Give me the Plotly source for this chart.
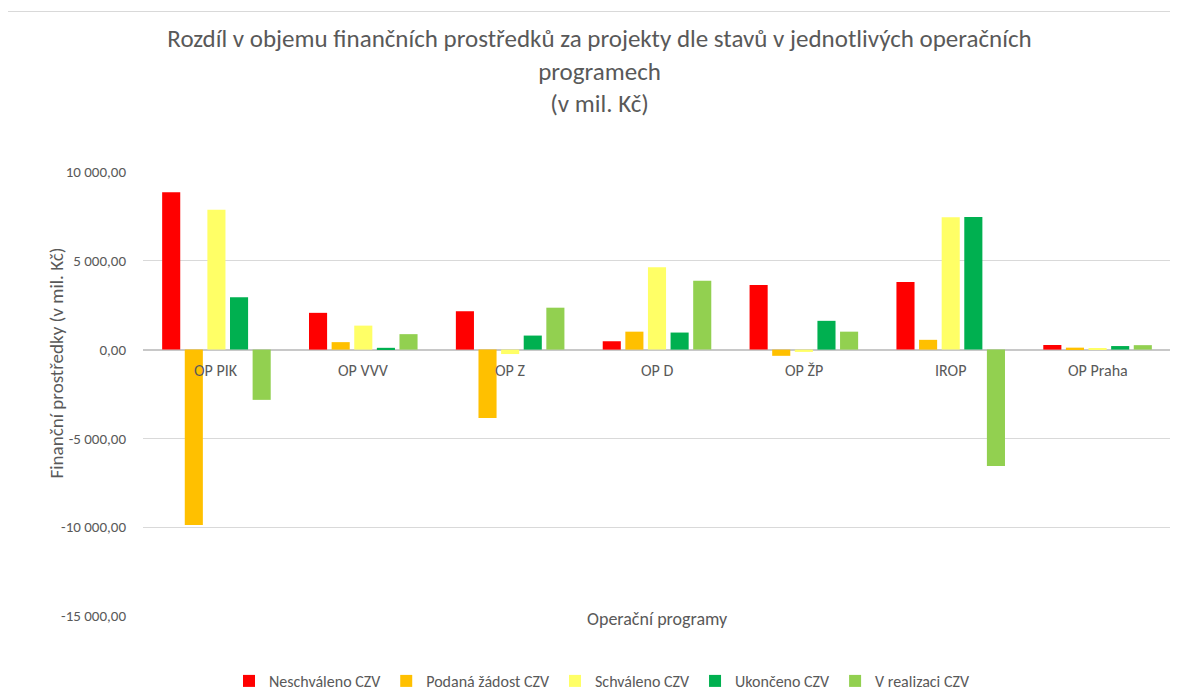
import plotly.graph_objects as go

categories = ["OP PIK", "OP VVV", "OP Z", "OP D", "OP ŽP", "IROP", "OP Praha"]
series_names = ["Neschváleno CZV", "Podaná žádost CZV", "Schváleno CZV", "Ukončeno CZV", "V realizaci CZV"]
neschvaleno = [8860, 2070, 2160, 470, 3640, 3810, 260]
podana = [-9870, 420, -3850, 1010, -350, 550, 110]
schvaleno = [7870, 1350, -250, 4640, -130, 7450, 80]
ukonceno = [2950, 100, 790, 960, 1620, 7460, 200]
v_realizaci = [-2830, 870, 2360, 3870, 1010, -6550, 250]
colors = ["#FF0000", "#FFC000", "#FFFF66", "#00B050", "#92D050"]
tick_values = [10000, 5000, 0, -5000, -10000, -15000]

def fmt(v):
    s = f"{abs(v):,.2f}".replace(",", " ").replace(".", ",")
    return ("-" if v < 0 else "") + s

FONT = "Carlito, Lato, sans-serif"
GREY = "#595959"

fig = go.Figure()
for name, vals, col in zip(series_names, [neschvaleno, podana, schvaleno, ukonceno, v_realizaci], colors):
    fig.add_trace(go.Bar(x=categories, y=vals, name=name, marker=dict(color=col, line=dict(width=0))))

W, H = 1178, 696
OFF = 8  # page body margin
# plot area in page pixels
L, R, T, B = 143, 1171, 172, 616
pw, ph = R - L, B - T

def px(x):
    return (x - L) / pw

def py(y):
    return (B - y) / ph

annotations = []
for c in categories:
    annotations.append(dict(x=c, y=0, xref="x", yref="y", text=c, showarrow=False,
                            yanchor="middle", yshift=-21, font=dict(size=16, color=GREY, family=FONT)))
annotations.append(dict(x=px(42), y=py(363), xref="paper", yref="paper", text="Finanční prostředky (v mil. Kč)",
                        showarrow=False, textangle=-90, font=dict(size=19, color=GREY, family=FONT)))
annotations.append(dict(x=px(657), y=py(632), xref="paper", yref="paper", text="Operační programy",
                        showarrow=False, font=dict(size=18, color=GREY, family=FONT)))

fig.update_layout(
    width=W, height=H,
    margin=dict(l=L - OFF, r=W - (R - OFF), t=T - OFF, b=H - (B - OFF), autoexpand=False),
    paper_bgcolor="white", plot_bgcolor="white",
    font=dict(family=FONT, color=GREY),
    title=dict(text="Rozdíl v objemu finančních prostředků za projekty dle stavů v jednotlivých operačních<br>programech<br>(v mil. Kč)",
               x=(599.5 - OFF) / W, xanchor="center", y=1 - 39 / H, yanchor="top",
               font=dict(size=25, color=GREY, family=FONT)),
    barmode="group", bargap=0.23, bargroupgap=0.2,
    xaxis=dict(showticklabels=False, showgrid=False, showline=False, ticks=""),
    yaxis=dict(range=[-15000, 10000], tickvals=tick_values, ticktext=[fmt(v) for v in tick_values],
               showgrid=True, gridcolor="#D9D9D9", gridwidth=1,
               zeroline=True, zerolinecolor="#C8C8C8", zerolinewidth=2,
               ticks="", ticklabelstandoff=16,
               tickfont=dict(size=15, color=GREY, family=FONT), showline=False),
    legend=dict(orientation="h", x=px(602), xanchor="center", y=py(681), yanchor="middle",
                font=dict(size=16, color=GREY, family=FONT), itemwidth=30, traceorder="normal"),
    annotations=annotations,
    shapes=[dict(type="rect", xref="paper", yref="paper", x0=px(6.5), x1=px(1173.5), y0=py(700), y1=py(11.5),
                 line=dict(color="#D9D9D9", width=1), fillcolor="rgba(0,0,0,0)", layer="above")],
)

fig.write_html("out.html")
